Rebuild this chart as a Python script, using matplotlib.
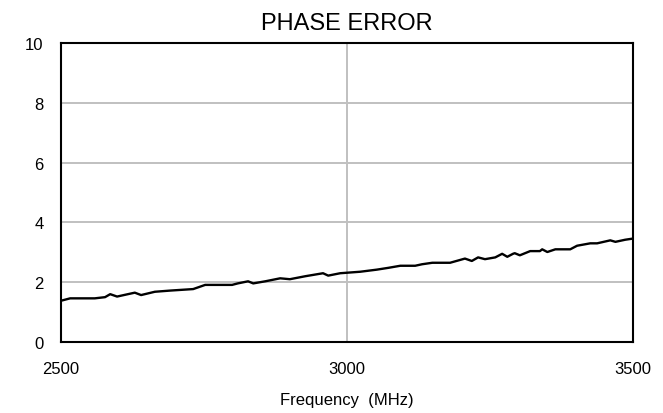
import matplotlib
matplotlib.use('Agg')
import matplotlib.pyplot as plt

# datos
freq = [2500, 2516, 2559, 2577, 2586, 2598, 2629, 2640, 2664, 2691,
        2731, 2752, 2799, 2809, 2827, 2836, 2857, 2883, 2900, 2927,
        2958, 2967, 2988, 3023, 3052, 3072, 3093, 3119, 3131, 3149,
        3180, 3206, 3218, 3229, 3241, 3259, 3271, 3280, 3290, 3293,
        3302, 3320, 3337, 3341, 3350, 3364, 3390, 3402, 3425, 3437,
        3460, 3469, 3486, 3500]
phase_error = [1.38, 1.46, 1.46, 1.50, 1.60, 1.52, 1.65, 1.57, 1.68, 1.72,
               1.77, 1.91, 1.91, 1.96, 2.03, 1.96, 2.03, 2.13, 2.10, 2.20,
               2.30, 2.22, 2.30, 2.35, 2.42, 2.48, 2.55, 2.55, 2.60, 2.65,
               2.65, 2.79, 2.71, 2.83, 2.77, 2.83, 2.95, 2.85, 2.95, 2.97,
               2.90, 3.04, 3.04, 3.10, 3.01, 3.10, 3.10, 3.22, 3.30, 3.30,
               3.40, 3.35, 3.42, 3.46]

x_ticks = [2500, 3000, 3500]
y_ticks = [0, 2, 4, 6, 8, 10]

plt.rcParams['font.family'] = ['Liberation Sans', 'DejaVu Sans']

fig = plt.figure(figsize=(6.63, 4.14), dpi=100)
ax = fig.add_axes([0.092, 0.1715, 0.863, 0.7222])

ax.plot(freq, phase_error, color='black', linewidth=1.7, zorder=3)

ax.set_xlim(2500, 3500)
ax.set_ylim(0, 10)
ax.set_xticks(x_ticks)
ax.set_yticks(y_ticks)
ax.grid(True, color='#c0c0c0', linewidth=1.4)
ax.tick_params(length=0, labelsize=12)
ax.tick_params(axis='x', pad=14)
ax.tick_params(axis='y', pad=12.5)
for s in ax.spines.values():
    s.set_linewidth(1.5)
    s.set_color('black')

ax.set_title("PHASE ERROR", fontsize=17, pad=10)
ax.set_xlabel("Frequency  (MHz)", fontsize=12, labelpad=11)

plt.savefig('out.png', dpi=100)
